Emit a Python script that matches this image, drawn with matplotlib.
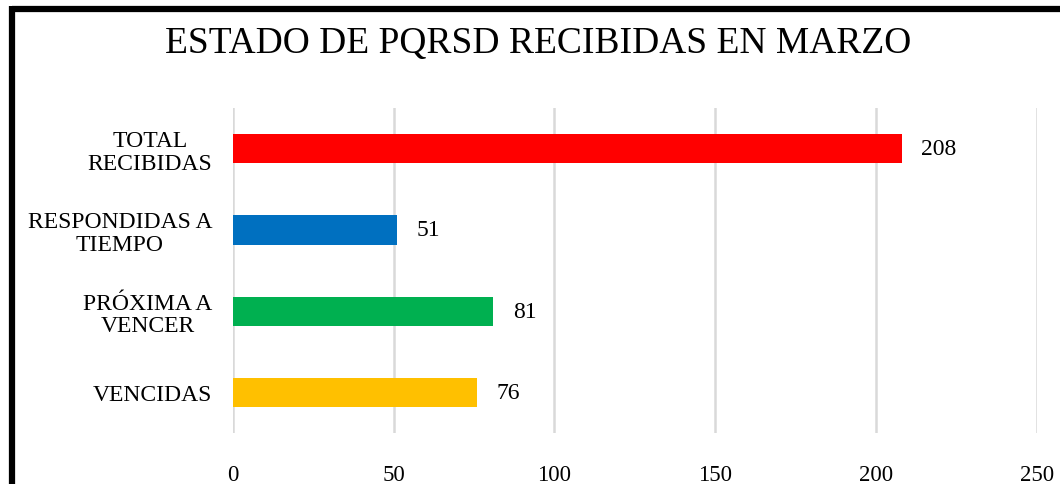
import matplotlib.pyplot as plt
from matplotlib.lines import Line2D

categories = ["VENCIDAS", "PRÓXIMA A\nVENCER", "RESPONDIDAS A\nTIEMPO", "TOTAL\nRECIBIDAS"]
values = [76, 81, 51, 208]
colors = ["#FFC000", "#00B050", "#0070C0", "#FF0000"]
xticks = [0, 50, 100, 150, 200, 250]
title = "ESTADO DE PQRSD RECIBIDAS EN MARZO"

plt.rcParams['font.family'] = ['Liberation Serif', 'DejaVu Serif']

fig = plt.figure(figsize=(10.6, 4.85), dpi=100, facecolor='white')
ax = fig.add_axes([0.2198, 0.105, 0.7582, 0.670])

ypos = range(len(categories))
ax.barh(ypos, values, height=0.36, color=colors, zorder=3)
for y, v in zip(ypos, values):
    ax.text(v + 6, y, str(v), va='center', ha='left', fontsize=17)

ax.set_xlim(0, 250)
ax.set_ylim(-0.5, 3.5)
ax.set_xticks(xticks)
ax.set_xticklabels([str(t) for t in xticks], fontsize=16.5)
ax.set_yticks(list(ypos))
ax.set_yticklabels(categories, fontsize=17, linespacing=1.1, multialignment='center')
ax.tick_params(axis='both', length=0)
ax.tick_params(axis='x', pad=22)
ax.tick_params(axis='y', pad=15)
ax.grid(axis='x', color='#D9D9D9', linewidth=1.8, zorder=0)
for s in ax.spines.values():
    s.set_visible(False)

fig.text(0.508, 0.909, title, ha='center', va='center', fontsize=27)

# chart frame (top and left edges visible)
W, H = 1060, 485
fig.add_artist(Line2D([11.5 / W, 1], [1 - 9.5 / H, 1 - 9.5 / H], color='black', linewidth=4.5,
                      transform=fig.transFigure, solid_capstyle='butt'))
fig.add_artist(Line2D([11.5 / W, 11.5 / W], [1 - 7 / H, 0], color='black', linewidth=4.5,
                      transform=fig.transFigure, solid_capstyle='butt'))

fig.savefig("out.png", dpi=100, facecolor='white')
